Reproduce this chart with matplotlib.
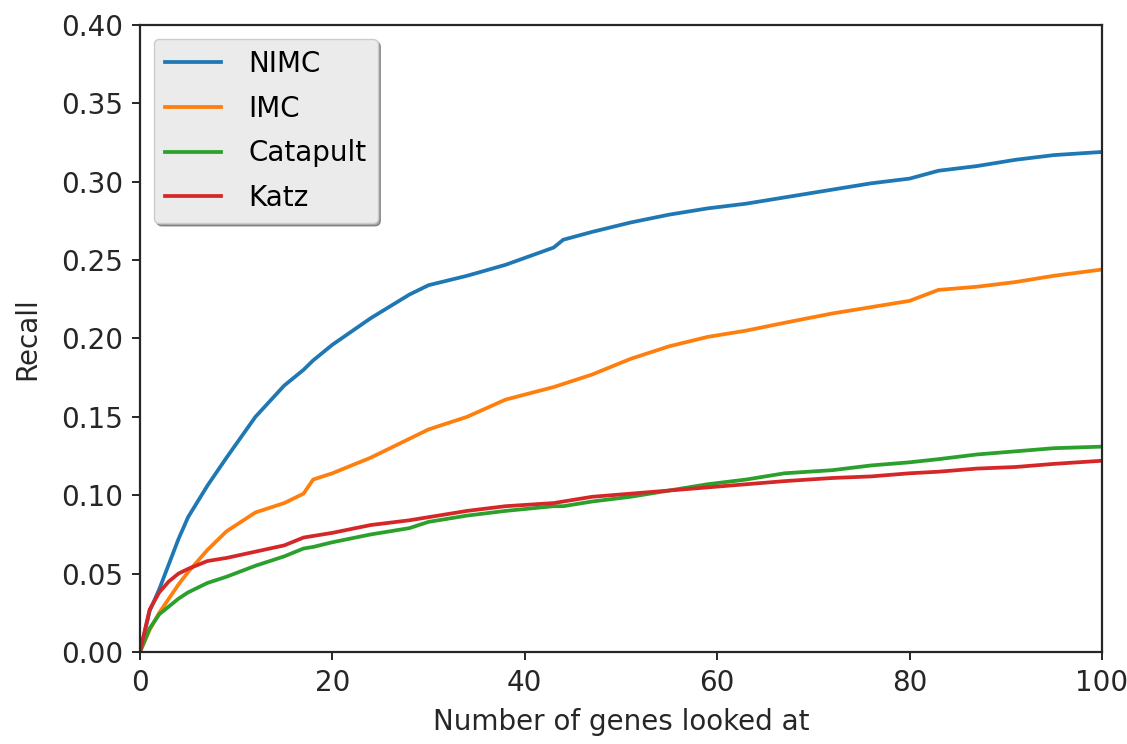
import matplotlib
matplotlib.use("Agg")
import matplotlib.pyplot as plt

# number of genes looked at
genes = [0, 1, 2, 3, 4, 5, 7, 9, 12, 15, 17, 18, 20, 24, 28, 30, 34, 38, 43, 44,
         47, 51, 55, 59, 63, 67, 72, 76, 80, 83, 87, 91, 95, 100]

# recall
nimc = [0, 0.026, 0.040, 0.056, 0.072, 0.086, 0.106, 0.124, 0.150, 0.170, 0.180,
        0.186, 0.196, 0.213, 0.228, 0.234, 0.240, 0.247, 0.258, 0.263, 0.268,
        0.274, 0.279, 0.283, 0.286, 0.290, 0.295, 0.299, 0.302, 0.307, 0.310,
        0.314, 0.317, 0.319]
imc = [0, 0.014, 0.025, 0.034, 0.043, 0.051, 0.065, 0.077, 0.089, 0.095, 0.101,
       0.110, 0.114, 0.124, 0.136, 0.142, 0.150, 0.161, 0.169, 0.171, 0.177,
       0.187, 0.195, 0.201, 0.205, 0.210, 0.216, 0.220, 0.224, 0.231, 0.233,
       0.236, 0.240, 0.244]
catapult = [0, 0.015, 0.024, 0.029, 0.034, 0.038, 0.044, 0.048, 0.055, 0.061,
            0.066, 0.067, 0.070, 0.075, 0.079, 0.083, 0.087, 0.090, 0.093, 0.093,
            0.096, 0.099, 0.103, 0.107, 0.110, 0.114, 0.116, 0.119, 0.121, 0.123,
            0.126, 0.128, 0.130, 0.131]
katz = [0, 0.027, 0.038, 0.045, 0.050, 0.053, 0.058, 0.060, 0.064, 0.068, 0.073,
        0.074, 0.076, 0.081, 0.084, 0.086, 0.090, 0.093, 0.095, 0.096, 0.099,
        0.101, 0.103, 0.105, 0.107, 0.109, 0.111, 0.112, 0.114, 0.115, 0.117,
        0.118, 0.120, 0.122]

series = [("NIMC", nimc, "#1f77b4"), ("IMC", imc, "#ff7f0e"),
          ("Catapult", catapult, "#2ca02c"), ("Katz", katz, "#d62728")]

fig = plt.figure(figsize=(11.27, 7.44), dpi=100)
ax = fig.add_axes([0.1242, 0.1237, 0.8536, 0.8427])

for name, vals, col in series:
    ax.plot(genes, vals, color=col, lw=2.7, label=name)

ax.set_xlim(0, 100)
ax.set_ylim(0, 0.40)
ax.set_xticks([0, 20, 40, 60, 80, 100])
ax.set_yticks([0.0, 0.05, 0.10, 0.15, 0.20, 0.25, 0.30, 0.35, 0.40])
ax.set_yticklabels([f"{v:.2f}" for v in ax.get_yticks()])
ax.tick_params(labelsize=20, length=6, width=1.4, pad=6, colors="#262626")
for s in ax.spines.values():
    s.set_linewidth(1.6)
    s.set_color("#262626")

ax.set_xlabel("Number of genes looked at", fontsize=20, color="#262626", labelpad=8)
ax.set_ylabel("Recall", fontsize=20, color="#262626", labelpad=14)

leg = ax.legend(loc="upper left", fontsize=20, shadow=True, fancybox=True,
                borderaxespad=0.5, handlelength=2.0, handletextpad=1.0,
                labelspacing=0.6)
leg.get_frame().set_facecolor("#ebebeb")
leg.get_frame().set_edgecolor("#cccccc")
leg.get_frame().set_alpha(1)

fig.savefig("out.png", dpi=100)
